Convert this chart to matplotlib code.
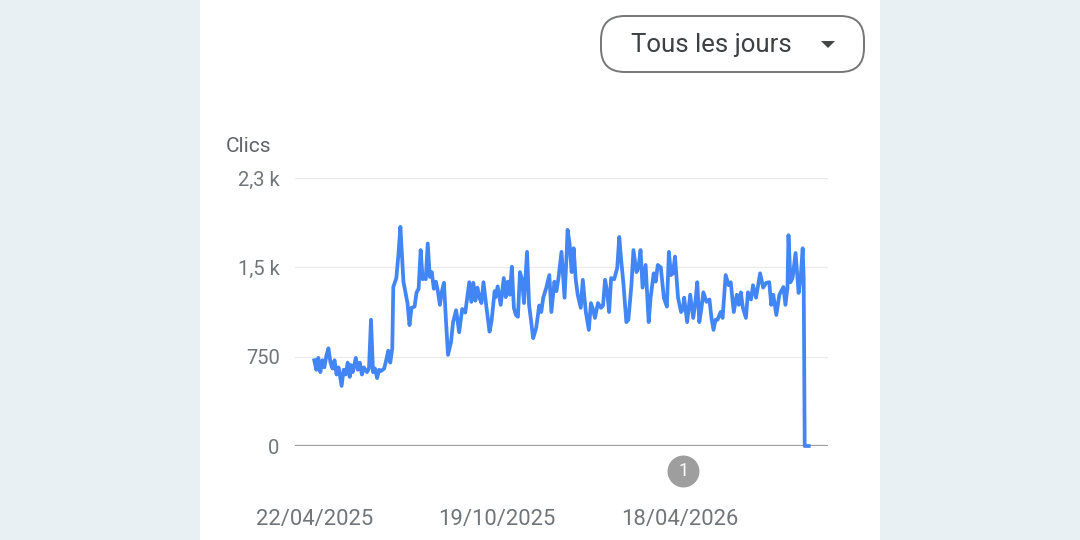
"""Search Console style clicks chart (daily clicks)."""

import datetime as dt

import matplotlib

matplotlib.use("Agg")
import matplotlib.dates as mdates
import matplotlib.pyplot as plt
from matplotlib.patches import FancyBboxPatch, Rectangle, Polygon

plt.rcParams["font.family"] = ["Roboto", "DejaVu Sans"]

# --- data -----------------------------------------------------------------
START = dt.date(2025, 4, 22)

day_offset = [
    0, 2, 4, 6, 8, 10, 12, 14, 16, 18, 20, 22, 24, 27, 29, 31, 33, 35, 36, 38,
    41, 43, 45, 47, 49, 52, 54, 56, 58, 60, 62, 64, 66, 69, 71, 73, 75, 77, 78, 81,
    83, 85, 88, 90, 92, 94, 96, 99, 101, 103, 105, 107, 108, 110, 112, 114, 116, 118, 120, 122,
    124, 126, 128, 130, 132, 135, 137, 140, 143, 146, 149, 151, 153, 155, 157, 159, 161, 163, 165, 167,
    170, 173, 175, 178, 179, 181, 184, 187, 189, 191, 193, 195, 197, 199, 201, 203, 205, 207, 210, 212,
    214, 216, 219, 222, 224, 226, 229, 232, 234, 237, 239, 241, 244, 247, 249, 250, 252, 254, 256, 258,
    260, 263, 265, 268, 271, 273, 275, 277, 280, 283, 285, 287, 289, 291, 293, 296, 299, 301, 303, 305,
    308, 310, 313, 315, 318, 320, 322, 324, 327, 330, 332, 335, 337, 339, 342, 345, 348, 350, 352, 354,
    356, 359, 362, 364, 365, 368, 371, 374, 376, 378, 380, 382, 384, 387, 390, 392, 394, 396, 398, 401,
    403, 406, 409, 411, 414, 417, 419, 421, 423, 426, 428, 431, 433, 436, 440, 443, 446, 449, 451, 453,
    456, 459, 463, 465, 467, 468, 470, 472, 475, 478, 480, 482, 483, 484, 488,
]

clicks = [
    720, 640, 740, 620, 720, 660, 760, 820, 700, 650, 720, 600, 660, 505, 640, 600, 700, 580, 680, 620,
    740, 640, 700, 600, 660, 620, 650, 1060, 620, 650, 570, 640, 630, 650, 720, 800, 700, 820, 1335, 1410,
    1600, 1840, 1380, 1290, 1200, 1015, 1160, 1170, 1290, 1320, 1645, 1400, 1435, 1400, 1700, 1420, 1460, 1320, 1380, 1300,
    1185, 1300, 1370, 1050, 765, 875, 1040, 1140, 955, 1150, 1120, 1250, 1375, 1210, 1370, 1220, 1330, 1245, 1200, 1375,
    1160, 960, 1050, 1300, 1250, 1340, 1185, 1410, 1250, 1380, 1270, 1505, 1160, 1100, 1085, 1460, 1400, 1200, 1630, 1185,
    1050, 905, 990, 1180, 1125, 1245, 1330, 1435, 1125, 1380, 1300, 1410, 1630, 1245, 1600, 1815, 1700, 1460, 1660, 1400,
    1270, 1160, 1395, 1125, 975, 1200, 1150, 1075, 1200, 1160, 1180, 1395, 1300, 1125, 1410, 1400, 1495, 1755, 1550, 1375,
    1040, 1060, 1350, 1645, 1460, 1500, 1645, 1330, 1520, 1040, 1250, 1450, 1380, 1520, 1500, 1245, 1170, 1630, 1435, 1450,
    1590, 1245, 1125, 1150, 1245, 1040, 1270, 1075, 1200, 1375, 1040, 1150, 1290, 1210, 1230, 1075, 975, 1060, 1060, 1125,
    1075, 1435, 1350, 1375, 1125, 1270, 1185, 1290, 1160, 1075, 1290, 1230, 1350, 1245, 1450, 1330, 1370, 1375, 1185, 1270,
    1100, 1270, 1335, 1185, 1330, 1770, 1375, 1410, 1620, 1285, 1410, 1660, 1410, 0, 0,
]

y_ticks = [0, 750, 1500, 2250]
y_tick_labels = ["0", "750", "1,5 k", "2,3 k"]
x_tick_dates = [dt.date(2025, 4, 22), dt.date(2025, 10, 19), dt.date(2026, 4, 18)]
annotation_date = dt.date(2026, 4, 21)

dates = [START + dt.timedelta(days=d) for d in day_offset]

# --- figure ---------------------------------------------------------------
W, H = 1080, 540
fig = plt.figure(figsize=(W / 100, H / 100), dpi=100)
fig.patch.set_facecolor("#e9f0f4")
# white card in the middle, kept behind the axes
fig.patches.append(
    Rectangle((200 / W, 0), 680 / W, 1, transform=fig.transFigure,
              facecolor="white", edgecolor="none", zorder=-10)
)

ax = fig.add_axes([295 / W, 94 / H, 533 / W, 268 / H])
ax.set_facecolor("none")

ax.plot(dates, clicks, color="#4285f4", linewidth=2.7, solid_joinstyle="round",
        zorder=3, clip_on=False)

ax.set_ylim(0, 2250)
ax.set_xlim(START - dt.timedelta(days=19), START + dt.timedelta(days=507))

for s in ax.spines.values():
    s.set_visible(False)

ax.set_yticks(y_ticks)
ax.set_yticklabels(y_tick_labels)
for v in y_ticks[1:]:
    ax.axhline(v, color="#ebebeb", linewidth=1.0, zorder=1)
ax.axhline(0, color="#9e9e9e", linewidth=1.6, zorder=2)

ax.set_xticks(x_tick_dates)
ax.xaxis.set_major_formatter(mdates.DateFormatter("%d/%m/%Y"))
ax.tick_params(axis="both", length=0, labelcolor="#70757a")
ax.tick_params(axis="y", pad=11, labelsize=14.5)
ax.tick_params(axis="x", pad=45, labelsize=15.8)

fig.text(226 / W, 1 - 146 / H, "Clics", fontsize=15, color="#5f6368",
         ha="left", va="center")

# annotation marker under the axis
xt = ax.get_xaxis_transform()
ax.plot([annotation_date], [-0.093], marker="o", markersize=23,
        color="#9e9e9e", markeredgewidth=0, transform=xt, clip_on=False)
ax.text(annotation_date, -0.093, "1", transform=xt, color="white",
        fontsize=13, ha="center", va="center", clip_on=False)

# "Tous les jours" dropdown
fig.patches.append(
    FancyBboxPatch((601 / W, 1 - 72 / H), 263 / W, 56 / H,
                   boxstyle="round,pad=0,rounding_size=0.022",
                   transform=fig.transFigure, facecolor="white",
                   edgecolor="#747775", linewidth=1.4, mutation_aspect=2)
)
fig.text(631 / W, 1 - 45 / H, "Tous les jours", fontsize=18.5, color="#3c4043",
         ha="left", va="center")
fig.patches.append(
    Polygon([(821 / W, 1 - 41 / H), (835 / W, 1 - 41 / H), (828 / W, 1 - 48 / H)],
            closed=True, transform=fig.transFigure, facecolor="#444746",
            edgecolor="none")
)

fig.savefig("out.png", dpi=100)
